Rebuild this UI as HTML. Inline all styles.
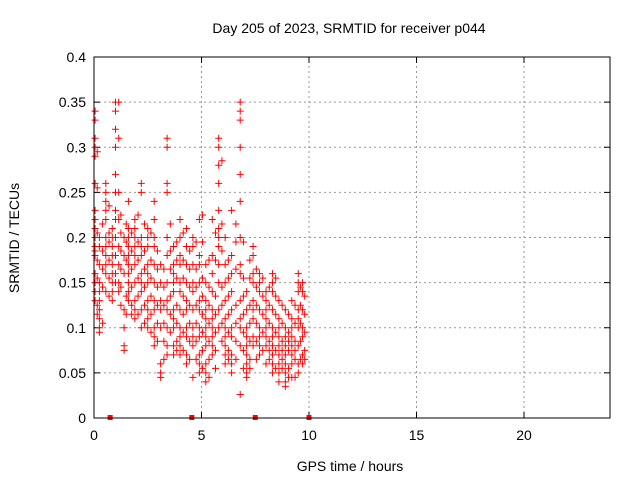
<!DOCTYPE html>
<html><head><meta charset="utf-8"><style>
body{margin:0;background:#fff}
svg{display:block;font-family:"Liberation Sans",sans-serif}
</style></head><body>
<svg id="chart" width="640" height="480" viewBox="0 0 640 480">
<rect width="640" height="480" fill="#fff"/>
<text x="349" y="33" font-size="14" text-anchor="middle">Day 205 of 2023, SRMTID for receiver p044</text>
<text x="350" y="471" font-size="14" text-anchor="middle">GPS time / hours</text>
<text transform="translate(19,238) rotate(-90)" font-size="14" text-anchor="middle">SRMTID / TECUs</text>
<g id="grid"></g>
<g id="ticks"></g>
<g id="points"></g>
<rect x="94" y="57" width="516" height="361" fill="none" stroke="#000" stroke-width="1"/>
</svg>
<script>
const xTicks=[0,5,10,15,20];
const yTicks=[0,0.05,0.1,0.15,0.2,0.25,0.3,0.35,0.4];
const yTickLabels=["0","0.05","0.1","0.15","0.2","0.25","0.3","0.35","0.4"];
const groupHours=[0.05,0.25,0.55,0.85,1.0,1.15,1.4,1.6,1.9,2.2,2.5,2.8,3.1,3.4,3.7,4.0,4.3,4.6,4.9,5.2,5.5,5.8,6.1,6.4,6.8,7.1,7.4,7.7,8.0,8.3,8.6,8.9,9.2,9.5,9.7,
0.15,0.4,0.7,1.25,1.5,1.75,2.05,2.35,2.65,2.95,3.25,3.55,3.85,4.15,4.45,4.75,5.05,5.35,5.65,5.95,6.25,6.6,6.95,7.25,7.55,7.85,8.15,8.45,8.75,9.05,9.35,9.6,9.8];
const groupValues=[
[.34,.33,.31,.30,.29,.26,.23,.22,.21,.2,.19,.185,.18,.16,.15,.15,.14,.13],
[.2,.19,.17,.15,.14,.13,.12,.11,.1,.095],
[.26,.25,.24,.23,.22,.2,.19,.18,.17,.16,.14],
[.21,.2,.19,.18,.17,.16,.15,.14,.13],
[.35,.34,.32,.3,.27,.25,.23,.22,.2,.18,.16,.15],
[.35,.31,.25,.22,.19,.17,.15,.14],
[.2,.18,.16,.12,.1,.08,.075,.1],
[.24,.21,.2,.19,.18,.17,.16,.15,.14,.13],
[.22,.21,.2,.19,.18,.17,.15,.13,.12,.11],
[.26,.25,.2,.19,.18,.16,.15,.14,.12,.1],
[.21,.2,.19,.17,.16,.15,.13,.12,.11,.1],
[.24,.22,.2,.19,.17,.15,.13,.12,.1,.09,.08],
[.17,.15,.13,.12,.1,.06,.05,.045],
[.31,.3,.26,.25,.2,.18,.15,.13,.12,.1,.08,.07],
[.19,.17,.16,.15,.14,.12,.11,.1,.08,.07],
[.22,.2,.18,.17,.15,.14,.12,.1,.09,.08,.07],
[.21,.19,.17,.15,.13,.12,.1,.09,.07,.06],
[.2,.19,.17,.15,.14,.12,.1,.09,.08,.045],
[.22,.18,.17,.15,.13,.12,.1,.09,.07,.06,.05],
[.17,.15,.13,.12,.11,.1,.09,.08,.06,.05,.04],
[.22,.18,.16,.14,.12,.11,.1,.09,.08,.07],
[.31,.3,.28,.26,.23,.21,.2,.19,.17,.15,.12,.1],
[.2,.17,.15,.13,.11,.1,.09,.08,.07,.06],
[.23,.18,.16,.14,.12,.1,.09,.07,.06,.05],
[.35,.34,.33,.3,.27,.24,.2,.17,.16,.13,.11,.1,.08,.026],
[.14,.12,.1,.09,.08,.07,.06,.05,.045],
[.19,.18,.16,.15,.13,.12,.11,.09,.08],
[.16,.15,.14,.12,.1,.09,.08,.07],
[.14,.13,.12,.11,.1,.09,.08,.06],
[.16,.15,.14,.12,.1,.09,.08,.07,.06,.05],
[.13,.11,.1,.09,.08,.07,.06,.05,.04],
[.12,.1,.09,.08,.07,.06,.05,.04,.035],
[.13,.11,.1,.09,.08,.07,.06,.045],
[.16,.15,.14,.12,.11,.1,.08,.06,.05],
[.15,.14,.12,.1,.09,.07,.06],
[.295,.255,.205,.175,.155,.125,.115],
[.215,.185,.165,.145,.105],
[.235,.195,.175,.155,.135,.205],
[.225,.205,.185,.165,.145,.125],
[.215,.195,.175,.135,.115],
[.205,.185,.165,.145,.125,.115],
[.225,.195,.175,.155,.135,.115],
[.215,.185,.165,.145,.125,.105],
[.205,.175,.155,.135,.115,.095],
[.185,.165,.145,.125,.105,.085],
[.165,.145,.125,.105,.085,.065],
[.215,.185,.165,.135,.115,.095],
[.195,.175,.155,.125,.105,.085,.075],
[.205,.175,.155,.135,.115,.095,.075],
[.185,.165,.145,.125,.105,.085,.065],
[.195,.165,.145,.125,.105,.085,.065],
[.225,.195,.155,.135,.115,.095,.075,.055],
[.175,.145,.125,.105,.085,.065,.045],
[.205,.175,.135,.115,.095,.075,.055],
[.285,.215,.185,.145,.125,.105,.085],
[.175,.155,.135,.115,.095,.075,.065],
[.215,.195,.165,.125,.105,.085,.065],
[.195,.155,.135,.115,.095,.075,.055],
[.175,.155,.125,.105,.085,.065,.055],
[.165,.145,.125,.105,.085,.065],
[.155,.135,.115,.095,.075],
[.145,.125,.105,.085,.075,.065],
[.155,.135,.115,.095,.075,.055],
[.125,.105,.085,.075,.065,.055],
[.115,.095,.085,.075,.055,.045],
[.125,.105,.085,.075,.065,.045],
[.145,.125,.105,.085,.065],
[.135,.115,.095,.075,.065]
];
const zeroHours=[0.75,4.55,7.5,10.0];
const NS="http://www.w3.org/2000/svg";
const X0=94,X1=610,Y0=418,Y1=57;
function xs(h){return X0+(h/24)*(X1-X0);}
function ys(v){return Y0-(v/0.4)*(Y0-Y1);}
function mk(tag,attrs,parent){const e=document.createElementNS(NS,tag);for(const k in attrs)e.setAttribute(k,attrs[k]);parent.appendChild(e);return e;}
const grid=document.getElementById('grid'),ticks=document.getElementById('ticks'),pts=document.getElementById('points');
xTicks.forEach(t=>{const x=xs(t);
 if(t>0){const g=mk('line',{x1:x,x2:x,y1:Y0,y2:Y1,stroke:'#999','stroke-dasharray':'2,3'},grid);
 
 }
 mk('line',{x1:x,x2:x,y1:Y0,y2:Y0-6,stroke:'#000'},ticks);
 mk('line',{x1:x,x2:x,y1:Y1,y2:Y1+6,stroke:'#000'},ticks);
 const l=mk('text',{x:x,y:Y0+22,'font-size':14,'text-anchor':'middle'},ticks);l.textContent=t;
 
 
});
yTicks.forEach((t,i)=>{const y=ys(t);
 if(t>0&&t<0.4){const g=mk('line',{x1:X0,x2:X1,y1:y,y2:y,stroke:'#999','stroke-dasharray':'2,3'},grid);
 
 }
 mk('line',{x1:X0,x2:X0+6,y1:y,y2:y,stroke:'#000'},ticks);
 mk('line',{x1:X1,x2:X1-6,y1:y,y2:y,stroke:'#000'},ticks);
 const l=mk('text',{x:X0-8,y:y+5,'font-size':14,'text-anchor':'end'},ticks);l.textContent=yTickLabels[i];
 
 
});
let d='';
groupHours.forEach((h,gi)=>{groupValues[gi].forEach(v=>{const x=xs(h),y=ys(v);d+=`M${x-3.5},${y}h7M${x},${y-3.5}v7`;});});
const p=mk('path',{d:d,stroke:'#f00','stroke-width':1,fill:'none'},pts);


zeroHours.forEach(h=>{const r=mk('rect',{x:xs(h)-2.5,y:Y0-3,width:5,height:5,fill:'#f00'},pts);
 
 });
</script>
</body></html>
